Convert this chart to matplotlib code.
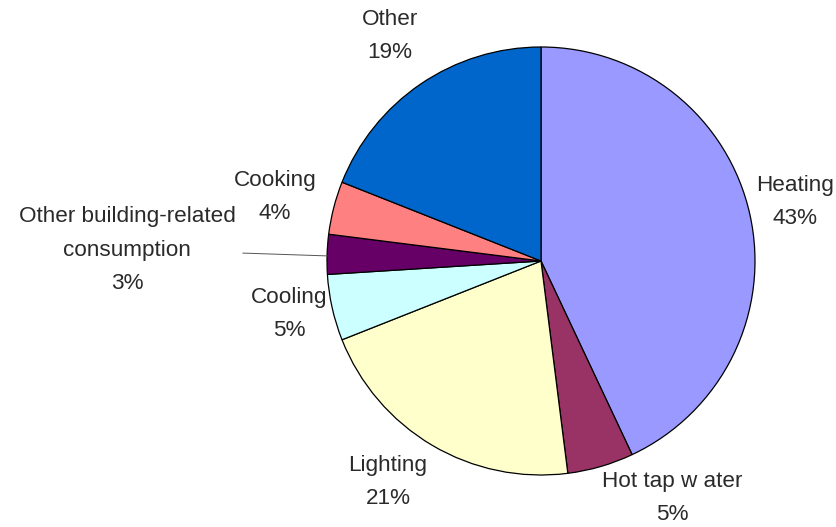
import matplotlib.pyplot as plt

# Données
categories = ["Heating", "Hot tap w ater", "Lighting", "Cooling",
              "Other building-related\nconsumption", "Cooking", "Other"]
shares = [43, 5, 21, 5, 3, 4, 19]
colors = ["#9999FF", "#993366", "#FFFFCC", "#CCFFFF", "#660066", "#FF8080", "#0066CC"]

# position des étiquettes (pixels, origine en haut à gauche)
label_pos = [(795, 202), (672, 498), (388, 482), (289, 314),
             (127, 250), (275, 197), (390, 36)]

W, H = 837, 527
plt.rcParams['font.family'] = ['Liberation Sans', 'DejaVu Sans']

fig = plt.figure(figsize=(W / 100, H / 100), dpi=100)
ax = fig.add_axes([0, 0, 1, 1])

wedges, texts = ax.pie(shares, colors=colors, startangle=90, counterclock=False,
                       center=(541, H - 261), radius=214,
                       labels=[f"{c}\n{s}%" for c, s in zip(categories, shares)],
                       wedgeprops=dict(edgecolor="black", linewidth=0.9),
                       textprops=dict(fontsize=16.2, color="#2a2a2a"))

for t, (x, y) in zip(texts, label_pos):
    t.set_position((x, H - y))
    t.set_ha("center")
    t.set_va("center")
    t.set_multialignment("center")
    t.set_linespacing(1.78)

# trait de rappel pour la petite part
ax.annotate("", xy=(330, H - 256), xytext=(240, H - 253),
            arrowprops=dict(arrowstyle="-", color="#555555", lw=0.7))

ax.set_xlim(0, W)
ax.set_ylim(0, H)
ax.set_aspect("equal")
ax.axis("off")

fig.savefig("out.png", dpi=100, facecolor="white")
